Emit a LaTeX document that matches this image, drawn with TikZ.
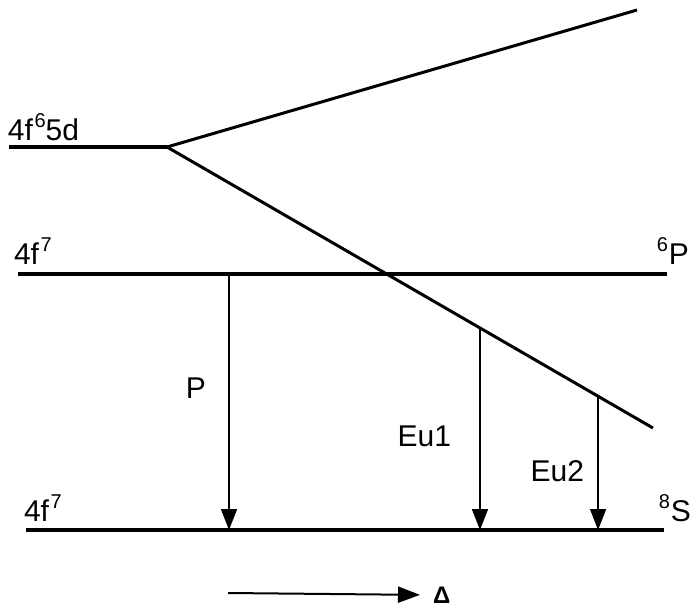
\documentclass[tikz,border=0pt]{standalone}
\usepackage{fontspec}
\setmainfont{Liberation Sans}
\usetikzlibrary{arrows.meta,calc}
\newcommand{\supx}[1]{\raisebox{13pt}{\fontsize{20}{20}\selectfont #1}}
\begin{document}
\begin{tikzpicture}[x=1pt,y=-1pt,
  level/.style={line width=3.2pt},
  branch/.style={line width=3pt},
  trans/.style={line width=1.7pt,-{Triangle[length=21pt,width=16pt]}},
  lab/.style={font=\fontsize{30}{30}\selectfont, inner sep=0pt, outer sep=0pt}]
\useasboundingbox (0,0) rectangle (691,608);
% coordinates
\coordinate (d0) at (9,147);
\coordinate (d1) at (167,147);
\coordinate (up) at (637,10);
\coordinate (lo) at (653,428);
\coordinate (m0) at (18,274);
\coordinate (m1) at (667,274);
\coordinate (b0) at (26,530);
\coordinate (b1) at (664,530);
\coordinate (pt) at (229,274);
\coordinate (e1) at ($(d1)!0.644!(lo)$);
\coordinate (e2) at ($(d1)!0.887!(lo)$);
% levels
\draw[level] (d0) -- (d1);
\draw[branch] (d1) -- (up);
\draw[branch] (d1) -- (lo);
\draw[level] (m0) -- (m1);
\draw[level] (b0) -- (b1);
% transitions
\draw[trans] (pt) -- (pt |- b0);
\draw[trans] (e1) -- (e1 |- b0);
\draw[trans] (e2) -- (e2 |- b0);
% labels
\node[lab,anchor=base west] (l1) at (8,140) {4f\kern1.5pt\supx{6}5d};
\node[lab,anchor=base west] (l2) at (14,264) {4f\kern1.5pt\supx{7}};
\node[lab,anchor=base east] (l3) at (689,264) {\supx{6}\kern1pt P};
\node[lab,anchor=base west] (l4) at (24,521) {4f\kern1.5pt\supx{7}};
\node[lab,anchor=base east] (l5) at (691,521) {\supx{8}\kern1pt S};
\node[lab,anchor=east] (lp) at (206,388) {P};
\node[lab,anchor=east] (le1) at (451,436) {Eu1};
\node[lab,anchor=east] (le2) at (584,471) {Eu2};
% Delta arrow
\coordinate (a0) at (228,593);
\node[font=\bfseries\fontsize{24}{24}\selectfont,anchor=west,inner sep=0pt,outer sep=0pt] (dl) at (433,595) {Δ};
\draw[line width=2pt,-{Triangle[length=22pt,width=16pt]},shorten >=13pt] (a0) -- (dl.west);
\end{tikzpicture}
\end{document}
